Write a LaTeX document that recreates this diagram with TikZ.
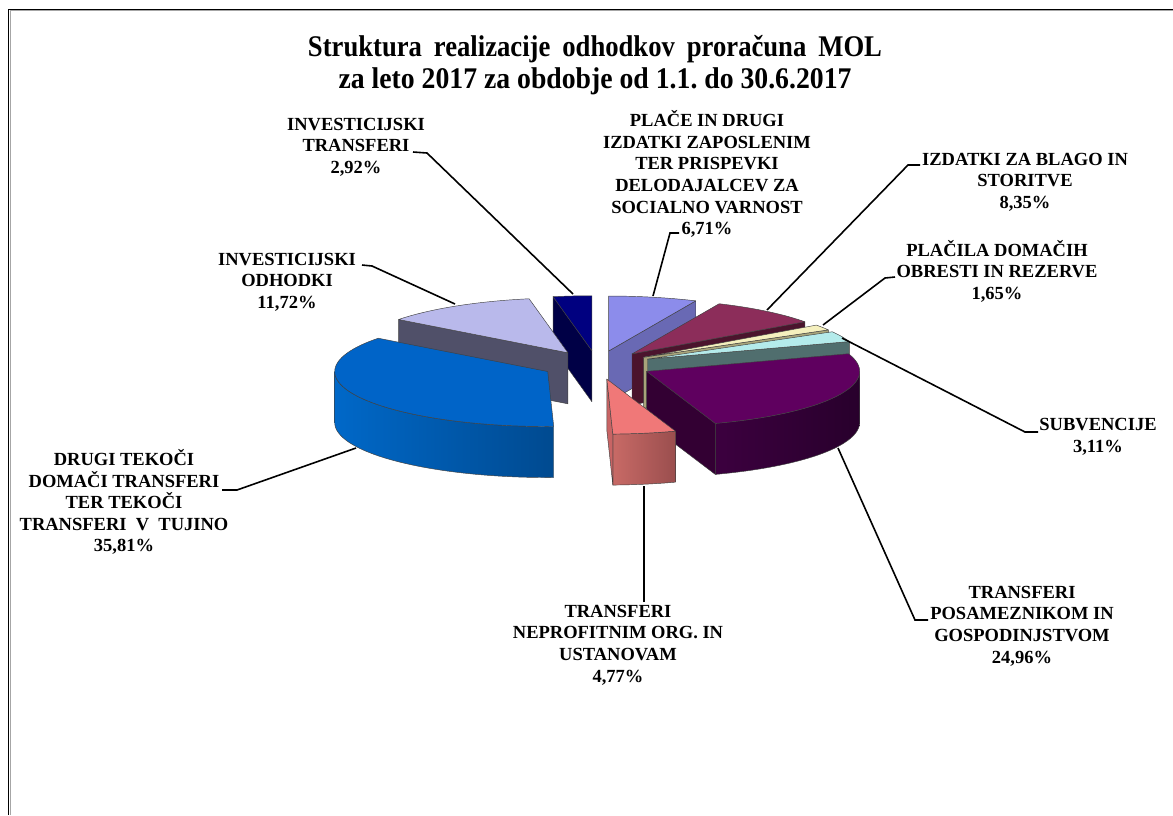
\documentclass[tikz,border=0pt]{standalone}
\usepackage{fontspec}
\setmainfont{Liberation Serif}
\frenchspacing
\definecolor{navytop}{HTML}{000080}
\definecolor{navywall}{HTML}{000046}
\definecolor{platop}{HTML}{8C8CEB}
\definecolor{plawall}{HTML}{6969B4}
\definecolor{lavtop}{HTML}{B9B9EB}
\definecolor{lavwall}{HTML}{505069}
\definecolor{martop}{HTML}{8C2D5A}
\definecolor{marwall}{HTML}{4B142D}
\definecolor{cretop}{HTML}{F5F0BE}
\definecolor{crewall}{HTML}{A8A47A}
\definecolor{cyatop}{HTML}{B4EBEB}
\definecolor{cyawall}{HTML}{506E6E}
\definecolor{purtop}{HTML}{5F005F}
\definecolor{purwall}{HTML}{330033}
\definecolor{purwallA}{HTML}{3C003F}
\definecolor{purwallB}{HTML}{28002C}
\definecolor{saltop}{HTML}{F07878}
\definecolor{salwall}{HTML}{C86464}
\definecolor{salwallA}{HTML}{C86A66}
\definecolor{salwallB}{HTML}{9A4E4E}
\definecolor{blutop}{HTML}{0064C8}
\definecolor{bluwallA}{HTML}{0068C8}
\definecolor{bluwallB}{HTML}{004A90}
\newcommand\PieTop[4]{\begin{scope}[shift={(#1)}]
  \filldraw[sliceedge, fill=#4] (0,0) -- plot[domain=#2:#3, samples=60, variable=\t] ({213*sin(\t)},{-55*cos(\t)}) -- cycle;
\end{scope}}
\newcommand\PieRadWall[3]{\begin{scope}[shift={(#1)}]
  \filldraw[sliceedge, fill=#3] (0,0) -- ({213*sin(#2)},{-55*cos(#2)}) -- ++(0,51) -- (0,51) -- cycle;
\end{scope}}
\newcommand\PieOuterWall[5]{\begin{scope}[shift={(#1)}]
  \shadedraw[sliceedge, left color=#4, right color=#5] plot[domain=#2:#3, samples=60, variable=\t] ({213*sin(\t)},{-55*cos(\t)}) -- plot[domain=#3:#2, samples=60, variable=\t] ({213*sin(\t)},{51-55*cos(\t)}) -- cycle;
\end{scope}}
\begin{document}
\begin{tikzpicture}[x=1pt,y=-1pt,
  sliceedge/.style={draw=black!75, line width=0.45pt, line join=round},
  lbl/.style={font=\bfseries\fontsize{18.5}{21.6}\selectfont, align=center, inner sep=0pt},
  ttl/.style={font=\bfseries\fontsize{30}{30}\selectfont, inner sep=0pt, anchor=base},
  leader/.style={line width=1.6pt, black, line join=miter}]
\useasboundingbox (0,0) rectangle (1173,815);
\fill[white] (0,0) rectangle (1173,815);
% frame
\draw[black!35, line width=1pt] (10.3,815) -- (10.3,10.8) -- (1173,10.8);
\draw[black, line width=1.3pt] (8.7,815) -- (8.7,9.3) -- (1173,9.3);
% title
\node[ttl] (t1) at (595,56) {\resizebox{574pt}{\height}{Struktura\hspace{0.45em}realizacije\hspace{0.45em}odhodkov\hspace{0.45em}proračuna\hspace{0.45em}MOL}};
\node[ttl] (t2) at (595,88) {\resizebox{513pt}{\height}{za leto 2017 za obdobje od 1.1. do 30.6.2017}};
% apexes
\coordinate (aPla) at ({597+55.4*sin(12.078)},{365-14.3*cos(12.078)});
\coordinate (aMar) at ({597+55.4*sin(39.186)},{365-14.3*cos(39.186)});
\coordinate (aCre) at ({597+55.4*sin(57.186)},{365-14.3*cos(57.186)});
\coordinate (aCya) at ({597+55.4*sin(65.754)},{365-14.3*cos(65.754)});
\coordinate (aPur) at ({597+55.4*sin(116.28)},{365-14.3*cos(116.28)});
\coordinate (aSal) at ({597+55.4*sin(169.794)},{365-14.3*cos(169.794)});
\coordinate (aBlu) at ({597+55.4*sin(242.838)},{365-14.3*cos(242.838)});
\coordinate (aLav) at ({597+55.4*sin(328.392)},{365-14.3*cos(328.392)});
\coordinate (aNav) at ({597+55.4*sin(354.744)},{365-14.3*cos(354.744)});
% slices, back to front
\PieRadWall{aNav}{349.488}{navywall}
\PieTop{aNav}{349.488}{360}{navytop}
\PieRadWall{aPla}{24.156}{plawall}
\PieTop{aPla}{0}{24.156}{platop}
\PieRadWall{aLav}{307.296}{lavwall}
\PieTop{aLav}{307.296}{349.488}{lavtop}
\PieRadWall{aMar}{54.216}{marwall}
\PieTop{aMar}{24.156}{54.216}{martop}
\PieRadWall{aCre}{60.156}{crewall}
\PieTop{aCre}{54.216}{60.156}{cretop}
\PieRadWall{aCya}{71.352}{cyawall}
\PieTop{aCya}{60.156}{71.352}{cyatop}
\PieOuterWall{aPur}{90}{161.208}{purwallA}{purwallB}
\PieRadWall{aPur}{161.208}{purwall}
\PieTop{aPur}{71.352}{161.208}{purtop}
\PieOuterWall{aBlu}{178.38}{270}{bluwallA}{bluwallB}
\PieTop{aBlu}{178.38}{307.296}{blutop}
\PieOuterWall{aSal}{161.208}{178.38}{salwallA}{salwallB}
\PieRadWall{aSal}{178.38}{salwall}
\PieTop{aSal}{161.208}{178.38}{saltop}
% labels
\node[lbl] (l1) at (356,147) {INVESTICIJSKI\\TRANSFERI\\2,92\%};
\node[lbl] (l2) at (707,174) {PLAČE IN DRUGI\\IZDATKI ZAPOSLENIM\\TER PRISPEVKI\\DELODAJALCEV ZA\\SOCIALNO VARNOST\\6,71\%};
\node[lbl] (l3) at (1025,182) {IZDATKI ZA BLAGO IN\\STORITVE\\8,35\%};
\node[lbl] (l4) at (997,271) {PLAČILA DOMAČIH\\OBRESTI IN REZERVE\\1,65\%};
\node[lbl] (l5) at (287,282) {INVESTICIJSKI\\ODHODKI\\11,72\%};
\node[lbl] (l6) at (1098,437) {SUBVENCIJE\\3,11\%};
\node[lbl] (l7) at (124,502) {DRUGI TEKOČI\\DOMAČI TRANSFERI\\TER TEKOČI\\TRANSFERI~ V~ TUJINO\\35,81\%};
\node[lbl] (l8) at (618,645) {TRANSFERI\\NEPROFITNIM ORG. IN\\USTANOVAM\\4,77\%};
\node[lbl] (l9) at (1022,626) {TRANSFERI\\POSAMEZNIKOM IN\\GOSPODINJSTVOM\\24,96\%};
% leader points
\coordinate (s1) at (413,152); \coordinate (k1) at (427,153); \coordinate (e1) at (573,294);
\coordinate (s2) at (679,233); \coordinate (k2) at (670,233); \coordinate (e2) at (653,296);
\coordinate (s3) at (920,165); \coordinate (k3) at (908,165); \coordinate (e3) at (767,310);
\coordinate (s4) at (895,277); \coordinate (k4) at (885,278); \coordinate (e4) at (823,325);
\coordinate (s5) at (362,265); \coordinate (k5) at (372,266); \coordinate (e5) at (455,304);
\coordinate (s6) at (1038,432); \coordinate (k6) at (1025,432); \coordinate (e6) at (842,338);
\coordinate (s7) at (222,490); \coordinate (k7) at (237,490); \coordinate (e7) at (356,448);
\coordinate (s8) at (644,602); \coordinate (e8) at (644,486);
\coordinate (s9) at (928,620); \coordinate (k9) at (915,620); \coordinate (e9) at (838,448);
\draw[leader] (s1) -- (k1) -- (e1);
\draw[leader] (s2) -- (k2) -- (e2);
\draw[leader] (s3) -- (k3) -- (e3);
\draw[leader] (s4) -- (k4) -- (e4);
\draw[leader] (s5) -- (k5) -- (e5);
\draw[leader] (s6) -- (k6) -- (e6);
\draw[leader] (s7) -- (k7) -- (e7);
\draw[leader] (s8) -- (e8);
\draw[leader] (s9) -- (k9) -- (e9);
\end{tikzpicture}
\end{document}
